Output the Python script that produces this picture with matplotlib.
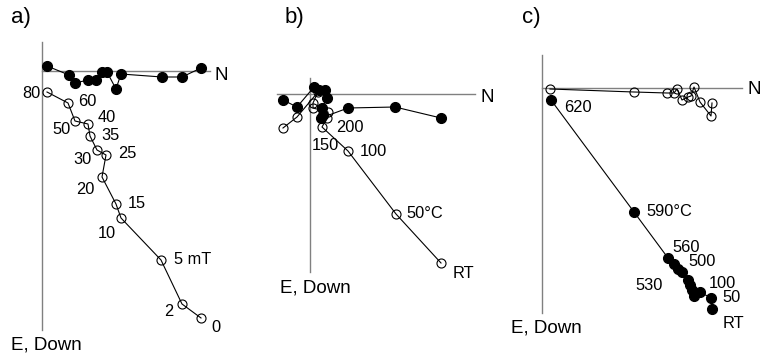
import matplotlib
matplotlib.use("Agg")
import matplotlib.pyplot as plt

plt.rcParams['font.family'] = ['Liberation Sans', 'DejaVu Sans']

# panel a) AF demagnetisation, components (N, Down) in plot units
a_fill_n = [5, 27, 33, 46, 54, 60, 65, 74, 79, 120, 140, 159]
a_fill_d = [-5, 4, 12, 9, 9, 1, 1, 18, 3, 6, 6, -3]
a_open_n = [5, 26, 33, 46, 48, 55, 64, 60, 74, 79, 119, 140, 159]
a_open_d = [21, 32, 50, 53, 65, 79, 84, 106, 133, 147, 189, 233, 247]
a_labels = ['80', '60', '50', '40', '35', '30', '25', '20', '15', '10', '5 mT', '2', '0']
a_lab_off = [(-16, 2), (19, -1), (-13, 9), (19, -6), (20, -1), (-15, 10), (21, -1),
             (-17, 12), (21, 0), (-14, 15), (32, 0), (-13, 8), (15, 9)]

# panel b) thermal demagnetisation
b_fill_n = [131, 85, 38, 11, 13, 12, 17, 15, 9, 4, -13, -27]
b_fill_d = [24, 13, 14, 24, 21, 14, 4, -4, -4, -7, 13, 6]
b_open_n = [131, 86, 38, 12, 17, 18, 3, 3, 8, -13, -27]
b_open_d = [169, 120, 57, 33, 24, 18, 14, 9, -2, 23, 34]
b_labels = ['RT', '50\u00b0C', '100', '150', '200']
b_lab_off = [(22, 10), (29, 0), (25, 0), (3, 19), (23, 9)]

# panel c) thermal demagnetisation
c_fill_n = [9, 92, 126, 132, 136, 140, 146, 148, 150, 152, 158, 169, 170]
c_fill_d = [12, 124, 170, 176, 181, 184, 192, 197, 202, 208, 204, 210, 221]
c_open_n = [8, 92, 125, 132, 135, 140, 146, 149, 152, 158, 169, 170]
c_open_d = [1, 4, 5, 5, 1, 12, 9, 8, -1, 14, 28, 15]
c_labels = {0: '620', 1: '590\u00b0C', 2: '560', 4: '530', 5: '500',
            10: '100', 11: '50', 12: 'RT'}
c_lab_off = {0: (27, 7), 1: (35, -1), 2: (18, -10), 4: (-29, 16), 5: (20, -11),
             10: (22, -9), 11: (21, -1), 12: (21, 14)}

W, H = 760, 359


def panel(left, width, x0, y0, vext, hext, n_pos, e_pos):
    ax = fig.add_axes([left / W, 0, width / W, 1])
    ax.set_xlim(left - x0, left + width - x0)
    ax.set_ylim(H - y0, -y0)
    ax.axis('off')
    ax.plot([0, 0], vext, color='#808080', lw=1.0, zorder=1)
    ax.plot(hext, [0, 0], color='#808080', lw=1.0, zorder=1)
    ax.text(n_pos[0], n_pos[1], 'N', fontsize=13.5, ha='center', va='center')
    ax.text(e_pos[0], e_pos[1], 'E, Down', fontsize=13.5, ha='center', va='center')
    return ax


def draw(ax, n, d, filled):
    ax.plot(n, d, color='black', lw=0.8, marker='o', ms=7.2 if filled else 6.5,
            mfc='black' if filled else 'none', mec='black', mew=0.8, zorder=3)


fig = plt.figure(figsize=(W / 100, H / 100), dpi=100)
lab_kw = dict(fontsize=11.8, ha='center', va='center')

ax = panel(0, 260, 42, 71, (-29, 259), (0, 168), (179, 5), (4, 274))
draw(ax, a_fill_n, a_fill_d, True)
draw(ax, a_open_n, a_open_d, False)
for i, t in enumerate(a_labels):
    ax.text(a_open_n[i] + a_lab_off[i][0], a_open_d[i] + a_lab_off[i][1], t, **lab_kw)

ax = panel(260, 260, 310, 94, (-16, 178), (-33, 165), (177, 3), (5, 194))
draw(ax, b_fill_n, b_fill_d, True)
draw(ax, b_open_n, b_open_d, False)
for i, t in enumerate(b_labels):
    ax.text(b_open_n[i] + b_lab_off[i][0], b_open_d[i] + b_lab_off[i][1], t, **lab_kw)

ax = panel(520, 240, 542, 88, (-33, 225), (0, 200), (212, 2), (4, 240))
draw(ax, c_open_n, c_open_d, False)
draw(ax, c_fill_n, c_fill_d, True)
for i, t in c_labels.items():
    ax.text(c_fill_n[i] + c_lab_off[i][0], c_fill_d[i] + c_lab_off[i][1], t, **lab_kw)

for x, t in [(21, 'a)'), (294, 'b)'), (531, 'c)')]:
    fig.text(x / W, 1 - 18 / H, t, fontsize=16, ha='center', va='center')

fig.savefig('out.png', dpi=100)
